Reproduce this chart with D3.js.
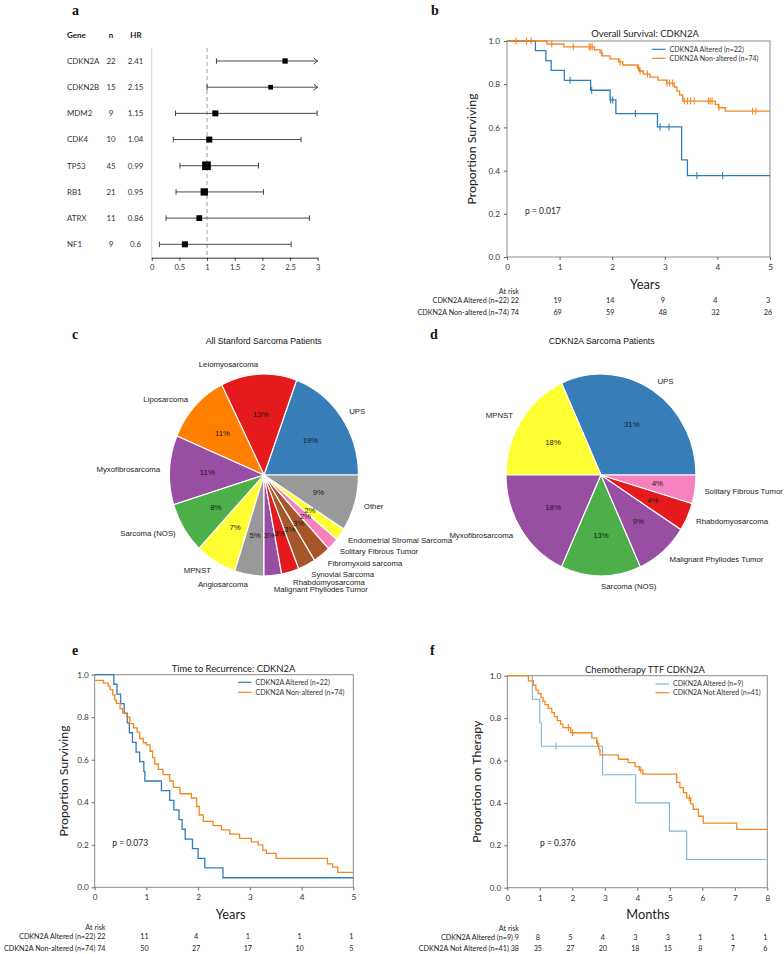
<!DOCTYPE html>
<html><head><meta charset="utf-8">
<script src="https://cdn.jsdelivr.net/npm/d3@7"></script>
<style>body{margin:0;background:#fff}svg{display:block}</style>
</head><body>
<svg id="c" width="784" height="954"></svg>
<script>
// ---------------- DATA ----------------
// Panel a: forest plot
const genes = ["CDKN2A","CDKN2B","MDM2","CDK4","TP53","RB1","ATRX","NF1"];
const nVals = [22,15,9,10,45,21,11,9];
const hrVals = [2.41,2.15,1.15,1.04,0.99,0.95,0.86,0.6];
const ciLow = [1.17,1.0,0.43,0.39,0.51,0.44,0.26,0.14];
const ciHigh = [4.9,4.6,2.99,2.70,1.93,2.02,2.85,2.52];
const hrWeights = [0.61,0.54,0.69,0.69,1.0,0.84,0.66,0.69];
const forestTicks = [0,0.5,1,1.5,2,2.5,3];

// Panel b: overall survival
const bAltT = [0,0.54,0.74,0.84,1.09,1.59,1.96,2.07,2.86,3.32,3.43];
const bAltS = [1,0.955,0.909,0.864,0.818,0.772,0.727,0.664,0.602,0.45,0.377];
const bAltCens = [1.2,1.61,1.97,2.01,2.44,2.91,3.08,3.61,4.1];
const bNonT = [0,0.76,1.08,1.66,1.77,1.81,1.96,2.12,2.2,2.48,2.52,2.59,2.72,2.87,3.04,3.18,3.23,3.28,3.34,3.96,4.02,4.15];
const bNonS = [1,0.986,0.973,0.959,0.945,0.931,0.917,0.903,0.889,0.875,0.861,0.847,0.833,0.819,0.805,0.787,0.768,0.75,0.722,0.707,0.691,0.675];
const bNonCens = [0.17,0.37,0.46,0.85,1.26,1.56,1.59,1.62,1.8,2.15,2.5,2.53,2.67,3.04,3.09,3.15,3.37,3.43,3.49,3.56,3.83,3.86,3.9,4.03,4.67,4.73];
const bRiskAlt = [22,19,14,9,4,3];
const bRiskNon = [74,69,59,48,32,26];

// Panel c: all patients pie (percent of patients)
const cLabels = ["UPS","Leiomyosarcoma","Liposarcoma","Myxofibrosarcoma","Sarcoma (NOS)","MPNST","Angiosarcoma","Malignant Phyllodes Tumor","Rhabdomyosarcoma","Synovial Sarcoma","Fibromyxoid sarcoma","Solitary Fibrous Tumor","Endometrial Stromal Sarcoma","Other"];
const cValues = [19.4,13.0,11.3,11.05,8.2,7.05,5.0,3.0,3.0,3.0,3.0,2.0,2.0,9.0];
const cColors = ["#377eb8","#e41a1c","#ff7f00","#984ea3","#4daf4a","#ffff33","#999999","#984ea3","#e41a1c","#a65628","#a65628","#f781bf","#ffff33","#999999"];

// Panel d: CDKN2A patients pie (patient counts)
const dLabels = ["UPS","MPNST","Myxofibrosarcoma","Sarcoma (NOS)","Malignant Phyllodes Tumor","Rhabdomyosarcoma","Solitary Fibrous Tumor"];
const dValues = [7,4,4,3,2,1,1];
const dColors = ["#377eb8","#ffff33","#984ea3","#4daf4a","#984ea3","#e41a1c","#f781bf"];

// Panel e: time to recurrence
const eAltT = [0,0.37,0.43,0.5,0.57,0.63,0.67,0.73,0.8,0.87,0.95,0.97,1.29,1.45,1.53,1.63,1.69,1.75,1.89,2.0,2.13,2.48];
const eAltS = [1,0.955,0.909,0.864,0.818,0.773,0.727,0.682,0.636,0.591,0.545,0.5,0.455,0.409,0.364,0.318,0.273,0.227,0.182,0.136,0.091,0.045];
const eNonT = [0,0.17,0.26,0.3,0.35,0.39,0.42,0.49,0.54,0.62,0.68,0.75,0.82,0.87,0.94,1.0,1.07,1.12,1.16,1.23,1.32,1.45,1.52,1.65,1.87,1.97,2.02,2.1,2.29,2.45,2.61,2.8,3.03,3.16,3.25,3.32,3.51,4.5,4.6,4.7];
const eNonS = [0.973,0.96,0.946,0.93,0.905,0.88,0.865,0.84,0.82,0.8,0.77,0.75,0.73,0.7,0.68,0.67,0.64,0.61,0.58,0.555,0.53,0.5,0.47,0.44,0.42,0.38,0.34,0.31,0.29,0.27,0.25,0.23,0.214,0.2,0.175,0.16,0.136,0.11,0.095,0.07];
const eRiskAlt = [22,11,4,1,1,1];
const eRiskNon = [74,50,27,17,10,5];

// Panel f: chemotherapy TTF
const fAltT = [0,0.77,1.0,1.05,2.93,3.95,4.99,5.52];
const fAltS = [1,0.889,0.778,0.667,0.533,0.4,0.267,0.133];
const fAltCens = [1.5];
const fNonT = [0,0.65,0.8,0.88,0.95,1.04,1.1,1.16,1.26,1.37,1.45,1.54,1.64,1.71,1.95,2.6,2.75,2.81,2.85,3.42,3.72,3.93,4.06,4.17,5.21,5.31,5.42,5.52,5.64,5.72,5.88,6.03,7.06];
const fNonS = [1,0.976,0.955,0.932,0.915,0.897,0.88,0.864,0.846,0.826,0.807,0.788,0.772,0.755,0.731,0.706,0.681,0.654,0.627,0.606,0.59,0.571,0.555,0.536,0.497,0.472,0.448,0.424,0.395,0.37,0.337,0.305,0.275];
const fNonCens = [1.88,2.01,2.78,4.11,5.6];
const fRiskAlt = [9,8,5,4,3,3,1,1,1];
const fRiskNon = [38,35,27,20,18,15,8,7,6];

const yTicks = [0,0.2,0.4,0.6,0.8,1.0];

// ---------------- DRAWING ----------------
const svg = d3.select("#c");
const SANS = "Lato, 'Open Sans', sans-serif";
const ARIAL = "'Liberation Sans', Arial, sans-serif";
const BLUE = "#2f7dbb", ORANGE = "#f5861f";

// panel letters
[["a",72,15],["b",431,15],["c",72,339],["d",430,339],["e",72,655],["f",430,655]].forEach(([t,x,y])=>{
  svg.append("text").attr("x",x).attr("y",y).text(t)
    .attr("font-family","'Liberation Serif', 'DejaVu Serif', serif").attr("font-weight","bold").attr("font-size",14).attr("fill","#111");
});

// ---------- Panel a ----------
(function(){
  const g = svg.append("g").attr("font-family",SANS).attr("fill","#333");
  const x = d3.scaleLinear().domain([0,3]).range([151.7,317.7]);
  const y = d3.scalePoint().domain(genes).range([61,244.3]);
  const axisY = 257.7;
  const hdr = [["Gene",67,"start"],["n",111,"middle"],["HR",136,"middle"]];
  hdr.forEach(([t,xx,a])=>g.append("text").attr("x",xx).attr("y",34.7).attr("dy","0.35em").attr("text-anchor",a)
    .attr("font-weight","bold").attr("font-size",8).attr("fill","#222").text(t));
  genes.forEach((gn,i)=>{
    const yy = y(gn);
    g.append("text").attr("x",67).attr("y",yy).attr("dy","0.35em").attr("font-size",7.9).attr("fill","#333").text(gn);
    g.append("text").attr("x",111).attr("y",yy).attr("dy","0.35em").attr("text-anchor","middle").attr("font-size",7.9).attr("fill","#333").text(nVals[i]);
    g.append("text").attr("x",135.5).attr("y",yy).attr("dy","0.35em").attr("text-anchor","middle").attr("font-size",7.9).attr("fill","#333").text(hrVals[i]);
  });
  g.append("line").attr("x1",x(0)).attr("x2",x(0)).attr("y1",48).attr("y2",axisY).attr("stroke","#d4d4d4").attr("stroke-width",1);
  g.append("line").attr("x1",x(1)).attr("x2",x(1)).attr("y1",48).attr("y2",axisY).attr("stroke","#b5b5b5").attr("stroke-width",1.3).attr("stroke-dasharray","4,3");
  genes.forEach((gn,i)=>{
    const yy = y(gn);
    const hi = Math.min(ciHigh[i],3);
    g.append("line").attr("x1",x(ciLow[i])).attr("x2",x(hi)).attr("y1",yy).attr("y2",yy).attr("stroke","#333").attr("stroke-width",0.9);
    g.append("line").attr("x1",x(ciLow[i])).attr("x2",x(ciLow[i])).attr("y1",yy-2.8).attr("y2",yy+2.8).attr("stroke","#333").attr("stroke-width",0.9);
    if(ciHigh[i] > 3){
      g.append("path").attr("d",`M${x(3)-4},${yy-3}L${x(3)},${yy}L${x(3)-4},${yy+3}`).attr("fill","none").attr("stroke","#333").attr("stroke-width",0.9);
    } else {
      g.append("line").attr("x1",x(hi)).attr("x2",x(hi)).attr("y1",yy-2.8).attr("y2",yy+2.8).attr("stroke","#333").attr("stroke-width",0.9);
    }
    const s = 8.7*hrWeights[i];
    g.append("rect").attr("x",x(hrVals[i])-s/2).attr("y",yy-s/2).attr("width",s).attr("height",s).attr("fill","#000");
  });
  const ax = g.append("g").attr("transform",`translate(0,${axisY})`)
    .call(d3.axisBottom(x).tickValues(forestTicks).tickFormat(d=>String(d)).tickSize(3).tickSizeOuter(0).tickPadding(4));
  ax.selectAll("text").attr("font-size",7.6).attr("font-family",SANS).attr("fill","#333");
  ax.selectAll("line,path").attr("stroke","#333");
})();

// ---------- KM helper ----------
function km(o){
  const g = svg.append("g").attr("font-family",SANS);
  const x = d3.scaleLinear().domain([0,o.xmax]).range([o.x0,o.x1]);
  const y = d3.scaleLinear().domain([0,1]).range([o.y0,o.y1]);
  g.append("rect").attr("x",o.x0).attr("y",o.y1).attr("width",o.x1-o.x0).attr("height",o.y0-o.y1)
    .attr("fill","none").attr("stroke","#8c8c8c").attr("stroke-width",1);
  const ax = g.append("g").attr("transform",`translate(0,${o.y0})`)
    .call(d3.axisBottom(x).tickValues(d3.range(0,o.xmax+1)).tickFormat(d3.format("d")).tickSize(3).tickSizeOuter(0).tickPadding(4));
  const ay = g.append("g").attr("transform",`translate(${o.x0},0)`)
    .call(d3.axisLeft(y).tickValues(yTicks).tickFormat(d3.format(".1f")).tickSize(3).tickSizeOuter(0).tickPadding(o.ypad));
  [ax,ay].forEach(a=>{a.select(".domain").remove();a.selectAll("line").attr("stroke","#666");
    a.selectAll("text").attr("font-size",8.2).attr("font-family",SANS).attr("fill","#333");});
  const line = d3.line().x(d=>x(d[0])).y(d=>y(d[1])).curve(d3.curveStepAfter);
  o.series.forEach(s=>{
    const pts = s.t.map((t,i)=>[t,s.s[i]]);
    pts.push([o.xmax, s.s[s.s.length-1]]);
    g.append("path").attr("d",line(pts)).attr("fill","none").attr("stroke",s.color).attr("stroke-width",s.w||1.3);
    (s.cens||[]).forEach(c=>{
      let v = s.s[0];
      s.t.forEach((t,i)=>{ if(t<=c) v = s.s[i]; });
      g.append("line").attr("x1",x(c)).attr("x2",x(c)).attr("y1",y(v)-3.5).attr("y2",y(v)+3.5)
        .attr("stroke",s.color).attr("stroke-width",1.1);
    });
  });
  // legend
  o.series.forEach((s,i)=>{
    const ly = o.legY[i];
    g.append("line").attr("x1",o.legX).attr("x2",o.legX+13.5).attr("y1",ly).attr("y2",ly).attr("stroke",s.color).attr("stroke-width",1.2);
    g.append("text").attr("x",o.legX+17.5).attr("y",ly).attr("dy","0.35em").attr("font-size",7).attr("fill","#333").text(s.name);
  });
  g.append("text").attr("x",o.titleX).attr("y",o.titleY).attr("dy","0.35em").attr("text-anchor","middle")
    .attr("font-size",9.4).attr("fill","#222").text(o.title);
  g.append("text").attr("transform",`translate(${o.ylabX},${(o.y0+o.y1)/2}) rotate(-90)`).attr("dy","0.35em")
    .attr("text-anchor","middle").attr("font-size",12.3).attr("fill","#222").text(o.ylab);
  g.append("text").attr("x",o.xlabX).attr("y",o.xlabY).attr("dy","0.35em").attr("text-anchor","middle")
    .attr("font-size",12.8).attr("fill","#222").text(o.xlab);
  g.append("text").attr("x",o.pX).attr("y",o.pY).attr("dy","0.35em").attr("font-size",8.5).attr("fill","#222").text(o.p);
  // at risk
  g.append("text").attr("x",o.riskX).attr("y",o.riskY[0]).attr("dy","0.35em").attr("text-anchor","end").attr("font-size",7.2).attr("fill","#222").text("At risk");
  o.series.forEach((s,i)=>{
    const ry = o.riskY[i+1];
    g.append("text").attr("x",o.riskX).attr("y",ry).attr("dy","0.35em").attr("text-anchor","end").attr("font-size",7.2).attr("fill","#222")
      .text(s.name + " " + s.risk[0]);
    s.risk.slice(1).forEach((r,k)=>{
      g.append("text").attr("x",x(k+1)-2).attr("y",ry).attr("dy","0.35em").attr("text-anchor","middle").attr("font-size",7.2).attr("fill","#222").text(r);
    });
  });
}

km({x0:507,x1:770,y0:257,y1:41,xmax:5,ypad:4,
  title:"Overall Survival: CDKN2A",titleX:645,titleY:33.3,
  ylab:"Proportion Surviving",ylabX:472,xlab:"Years",xlabX:645,xlabY:285,
  p:"p = 0.017",pX:525,pY:211,
  legX:652,legY:[49.3,58.3],
  riskX:519,riskY:[291.3,300,312.7],
  series:[
    {name:"CDKN2A Altered (n=22)",t:bAltT,s:bAltS,cens:bAltCens,color:BLUE,risk:bRiskAlt},
    {name:"CDKN2A Non-altered (n=74)",t:bNonT,s:bNonS,cens:bNonCens,color:ORANGE,risk:bRiskNon}
  ]});

km({x0:94.7,x1:353.3,y0:887.3,y1:674.7,xmax:5,ypad:3,
  title:"Time to Recurrence: CDKN2A",titleX:233.5,titleY:668.3,
  ylab:"Proportion Surviving",ylabX:63.5,xlab:"Years",xlabX:230.7,xlabY:915,
  p:"p = 0.073",pX:112.3,pY:843.3,
  legX:238,legY:[682.3,692.3],
  riskX:105.5,riskY:[927.5,936.7,948.3],
  series:[
    {name:"CDKN2A Altered (n=22)",t:eAltT,s:eAltS,color:BLUE,risk:eRiskAlt},
    {name:"CDKN2A Non-altered (n=74)",t:eNonT,s:eNonS,color:ORANGE,risk:eRiskNon}
  ]});

km({x0:507.3,x1:767.3,y0:887.7,y1:675.7,xmax:8,ypad:3,
  title:"Chemotherapy TTF CDKN2A",titleX:645,titleY:669.3,
  ylab:"Proportion on Therapy",ylabX:476.7,xlab:"Months",xlabX:648,xlabY:915,
  p:"p = 0.376",pX:540,pY:842.7,
  legX:655.5,legY:[684,692.7],
  riskX:519,riskY:[928.7,937,948.3],
  series:[
    {name:"CDKN2A Altered (n=9)",t:fAltT,s:fAltS,cens:fAltCens,color:"#7fb2d8",w:1.1,risk:fRiskAlt},
    {name:"CDKN2A Not Altered (n=41)",t:fNonT,s:fNonS,cens:fNonCens,color:ORANGE,risk:fRiskNon}
  ]});

// ---------- Pies ----------
function pie(o){
  const g = svg.append("g").attr("font-family",ARIAL);
  const arcs = d3.pie().sort(null).startAngle(Math.PI/2).endAngle(Math.PI/2 - 2*Math.PI)(o.values);
  const total = d3.sum(o.values);
  const arc = d3.arc().innerRadius(0).outerRadius(o.rx);
  const pg = g.append("g").attr("transform",`translate(${o.cx},${o.cy}) scale(1,${o.ry/o.rx})`);
  pg.selectAll("path").data(arcs).join("path").attr("d",arc).attr("fill",(d,i)=>o.colors[i])
    .attr("stroke","#fff").attr("stroke-width",1.2).attr("vector-effect","non-scaling-stroke");
  const outer = [];
  arcs.forEach((d,i)=>{
    const a = (d.startAngle+d.endAngle)/2;
    const sx = Math.sin(a), cy = -Math.cos(a);
    g.append("text").attr("x",o.cx+0.6*o.rx*sx).attr("y",o.cy+0.6*o.ry*cy).attr("dy","0.35em").attr("text-anchor","middle")
      .attr("font-size",7.8).attr("fill","#1a1a1a").text(Math.floor(d.value/total*100+1e-9)+"%");
    outer.push({x:o.cx+1.1*o.rx*sx, y:o.cy+1.1*o.ry*cy, right: sx > -1e-9, text:o.labels[i]});
  });
  // keep outer labels on each side at least a minimal line gap apart (lower half pushed down)
  [true,false].forEach(side=>{
    const L = outer.filter(l=>l.right===side && l.y>o.cy).sort((a,b)=>a.y-b.y);
    for(let k=1;k<L.length;k++) if(L[k].y-L[k-1].y<7.8) L[k].y=L[k-1].y+7.8;
  });
  outer.forEach(l=>{
    g.append("text").attr("x",l.x).attr("y",l.y).attr("dy","0.35em")
      .attr("text-anchor", l.right ? "start" : "end").attr("font-size",7.8).attr("fill","#222").text(l.text);
  });
  g.append("text").attr("x",o.tx).attr("y",o.ty).attr("dy","0.35em").attr("text-anchor","middle").attr("font-size",8.7).attr("fill","#111").text(o.title);
}
pie({cx:264,cy:475,rx:94.5,ry:101,values:cValues,labels:cLabels,colors:cColors,title:"All Stanford Sarcoma Patients",tx:263.7,ty:341});
pie({cx:601,cy:475,rx:95,ry:101,values:dValues,labels:dLabels,colors:dColors,title:"CDKN2A Sarcoma Patients",tx:601.7,ty:340.7});
</script>
</body></html>
